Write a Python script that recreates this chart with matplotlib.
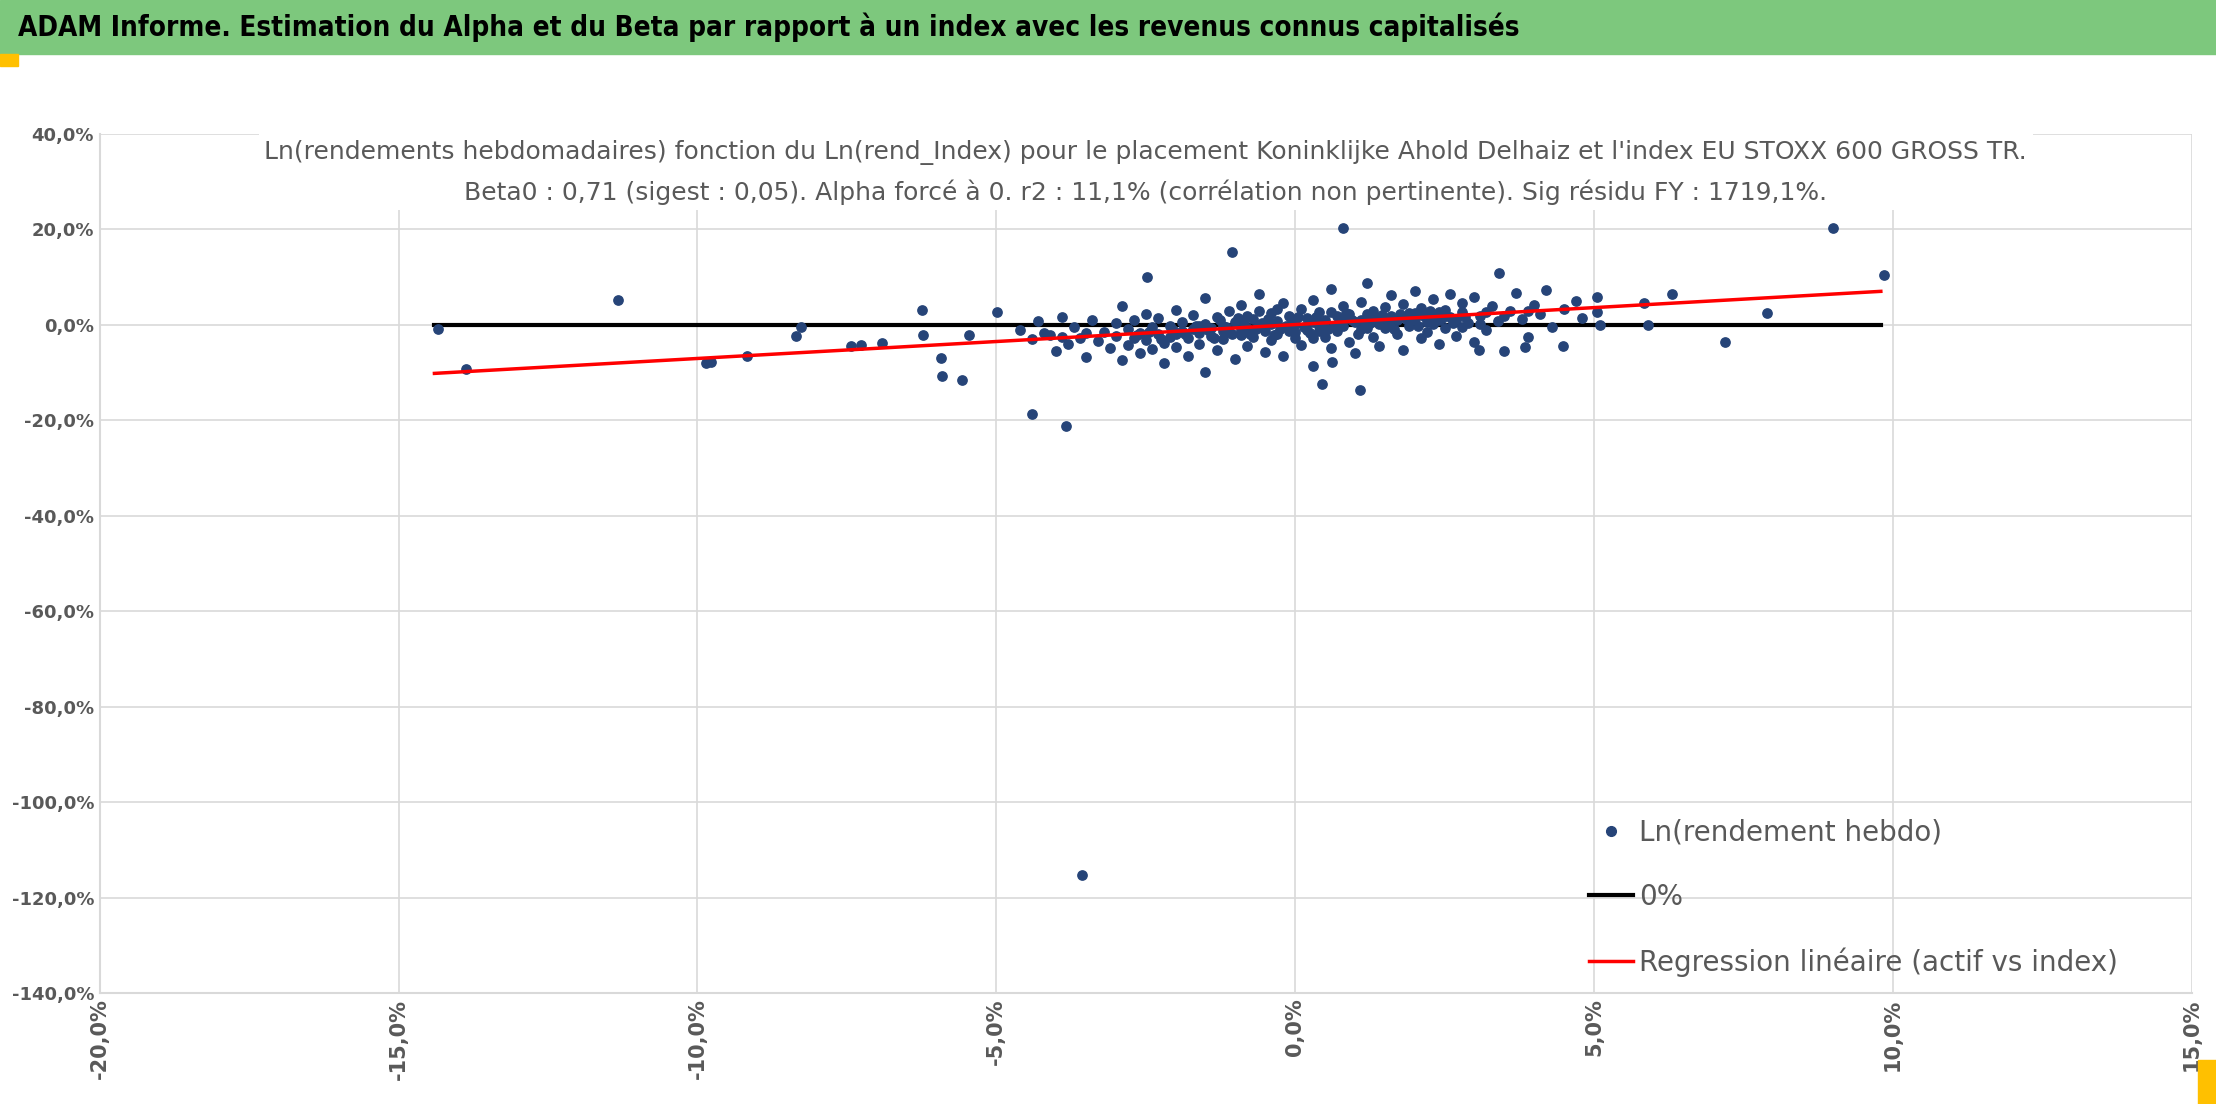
import matplotlib
matplotlib.use("Agg")
import matplotlib.pyplot as plt
from matplotlib.lines import Line2D
from matplotlib.patches import Rectangle
from matplotlib.ticker import FuncFormatter

plt.rcParams["font.family"] = ["Liberation Sans Narrow", "DejaVu Sans"]

# outliers (index %, asset %)
out_x = [-14.34, -13.87, -11.33, -9.85, -9.78, -9.17, -8.35, -8.27, -7.43, -7.26, -6.91, -6.25,
         -6.23, -5.92, -5.90, -5.57, -5.45, -4.98, -4.40, -3.83, -3.57, -1.06, 0.80, 0.35, 0.45,
         1.08, -2.47, 3.41, 9.0, 9.85, 7.9, 7.2, 5.9, 6.3, 5.83, 5.05, 5.05, 5.1, 4.49, 3.85,
         0.61, 3.08]
out_y = [-0.9, -9.3, 5.1, -8.1, -7.8, -6.6, -2.4, -0.6, -4.5, -4.2, -3.9, 3.0,
         -2.1, -6.9, -10.7, -11.6, -2.1, 2.7, -18.8, -21.2, -115.2, 15.2, 20.3, 30.5, -12.5,
         -13.7, 9.9, 10.7, 20.3, 10.4, 2.4, -3.6, 0.0, 6.3, 4.5, 5.7, 2.7, 0.0, -4.5, -4.8,
         -7.8, -5.4]

# dense cluster
clu = [(-4.6, -1.2), (-4.4, -3.0), (-4.3, 0.8), (-4.1, -2.2), (-4.0, -5.5), (-3.9, 1.5), (-3.8, -4.0),
       (-3.7, -0.5), (-3.6, -2.8), (-3.5, -6.8), (-3.4, 1.0), (-3.3, -3.5), (-3.2, -1.5), (-3.1, -5.0),
       (-3.0, 0.3), (-3.0, -2.4), (-2.9, -7.5), (-2.9, 3.8), (-2.8, -1.0), (-2.8, -4.2), (-2.7, -2.9),
       (-2.7, 0.9), (-2.6, -6.0), (-2.6, -1.8), (-2.5, 2.2), (-2.5, -3.3), (-2.4, -0.6), (-2.4, -5.2),
       (-2.3, -2.0), (-2.3, 1.4), (-2.2, -8.0), (-2.2, -3.8), (-2.1, -0.2), (-2.1, -2.6), (-2.0, 3.0),
       (-2.0, -4.6), (-1.9, -1.3), (-1.9, 0.6), (-1.8, -6.5), (-1.8, -2.9), (-1.7, -0.9), (-1.7, 2.1),
       (-1.6, -4.0), (-1.6, -1.8), (-1.5, 0.1), (-1.5, -10.0), (-1.5, 5.5), (-1.4, -2.4), (-1.4, -0.7),
       (-1.3, 1.6), (-1.3, -5.3), (-1.2, -3.1), (-1.2, -0.3), (-1.1, 2.8), (-1.1, -1.6), (-1.0, -7.2),
       (-1.0, 0.5), (-0.9, -2.2), (-0.9, 4.0), (-0.8, -0.8), (-0.8, -4.4), (-0.7, 1.2), (-0.7, -2.7),
       (-0.6, -0.1), (-0.6, 6.5), (-0.5, -5.8), (-0.5, -1.4), (-0.4, 2.4), (-0.4, -3.3), (-0.3, 0.7),
       (-0.3, -1.9), (-0.2, 4.6), (-0.2, -6.6), (-0.1, -0.6), (-0.1, 1.9), (0.0, -2.8), (0.0, 0.2),
       (0.1, 3.3), (0.1, -4.2), (0.2, -1.1), (0.2, 1.3), (0.3, -8.6), (0.3, 5.2), (0.4, -0.3), (0.4, 2.6),
       (0.5, -2.5), (0.5, 0.9), (0.6, -5.0), (0.6, 7.5), (0.7, 1.7), (0.7, -1.3), (0.8, 3.9), (0.8, -0.2),
       (0.9, -3.6), (0.9, 2.2), (1.0, 0.6), (1.0, -6.0), (1.1, 4.7), (1.1, -1.0), (1.2, 1.4), (1.2, 8.8),
       (1.3, -2.6), (1.3, 2.9), (1.4, 0.2), (1.4, -4.5), (1.5, 3.6), (1.5, -0.7), (1.6, 1.9), (1.6, 6.2),
       (1.7, -2.0), (1.7, 0.9), (1.8, 4.4), (1.8, -5.3), (1.9, 2.5), (1.9, -0.4), (2.0, 1.2), (2.0, 7.0),
       (2.1, -2.9), (2.1, 3.4), (2.2, 0.5), (2.2, -1.6), (2.3, 5.3), (2.3, 2.0), (2.4, -4.0), (2.4, 0.9),
       (2.5, 3.0), (2.5, -0.8), (2.6, 6.4), (2.6, 1.6), (2.7, -2.3), (2.8, 2.7), (2.8, 4.6), (2.9, 0.3),
       (3.0, -3.6), (3.0, 5.8), (3.1, 1.9), (3.2, -1.2), (3.3, 3.8), (3.4, 0.8), (3.5, -5.6), (3.6, 2.9),
       (3.7, 6.6), (3.8, 1.2), (3.9, -2.5), (4.0, 4.0), (4.1, 2.2), (4.2, 7.2), (4.3, -0.5), (4.5, 3.2),
       (4.7, 5.0), (4.8, 1.3),
       (-1.45, -1.1), (-1.25, 0.9), (-1.05, -2.0), (-0.85, 0.2), (-0.65, -1.0), (-0.45, 1.1), (-0.25, -0.9),
       (-0.05, 0.6), (0.15, -0.5), (0.35, 1.5), (0.55, -0.9), (0.75, 0.4), (0.95, 1.0), (1.15, -0.3),
       (1.35, 1.2), (1.55, 0.1), (1.75, 2.2), (1.95, 0.8), (2.15, 1.8), (-1.35, -2.8), (-1.15, -0.6),
       (-0.95, 1.3), (-0.75, -1.9), (-0.55, 0.4), (-0.35, -2.2), (-0.15, -0.2), (0.05, 1.6), (0.25, -1.8),
       (0.45, 0.1), (0.65, -0.3), (0.85, 2.5), (1.05, -1.9), (1.25, 0.3), (1.45, 2.0), (1.65, -1.0),
       (1.85, 1.1), (2.05, -0.2), (2.25, 2.9), (2.45, 1.4), (2.65, 0.3), (2.85, 1.5), (-1.65, -0.4),
       (-1.85, -2.0), (-2.05, -1.2), (-2.25, -3.0), (-2.45, -1.6), (-2.65, -2.2), (-0.6, 2.9), (0.0, -1.6),
       (0.6, 2.7), (1.2, -0.8), (-0.3, 3.3), (0.3, -2.9),
       (-0.9, -1.2), (-0.5, -0.4), (-0.1, -1.3), (0.3, 0.6), (0.7, -0.7), (1.1, 0.9), (1.5, 1.3),
       (1.9, 1.7), (2.3, 0.2), (2.7, 1.0), (3.1, 0.2), (3.5, 1.8), (3.9, 2.9), (-3.5, -1.8), (-3.9, -2.6),
       (-4.2, -1.7), (-2.0, -1.9), (-1.6, -0.2), (-1.2, -1.4), (-0.8, 1.9), (-0.4, 0.1), (0.0, 1.0),
       (0.4, -1.4), (0.8, 1.2), (1.2, 2.3), (1.6, -0.3), (2.0, 2.4), (2.4, 2.6), (2.8, -0.5), (3.2, 2.7)]
clu_x = [p[0] for p in clu]
clu_y = [p[1] for p in clu]

beta = 0.71
x_min, x_max = -14.4, 9.8

title = "ADAM Informe. Estimation du Alpha et du Beta par rapport à un index avec les revenus connus capitalisés"
subtitle = ("Ln(rendements hebdomadaires) fonction du Ln(rend_Index) pour le placement Koninklijke Ahold Delhaiz et l'index EU STOXX 600 GROSS TR.\n"
            "Beta0 : 0,71 (sigest : 0,05). Alpha forcé à 0. r2 : 11,1% (corrélation non pertinente). Sig résidu FY : 1719,1%.")

grey = "#595959"
fig = plt.figure(figsize=(22.16, 11.04), dpi=100)

# green banner
fig.patches.append(Rectangle((0, 0.951), 1, 0.049, transform=fig.transFigure, color="#7dc87d", zorder=0))
fig.patches.append(Rectangle((0, 0.94), 0.008, 0.011, transform=fig.transFigure, color="#ffc000"))
fig.patches.append(Rectangle((0.992, 0.0), 0.008, 0.04, transform=fig.transFigure, color="#ffc000"))
fig.text(0.008, 0.975, title, fontsize=20, fontweight="bold", va="center", ha="left", color="black",
         stretch="condensed")

ax = fig.add_axes([0.045, 0.1005, 0.944, 0.7785])
ax.scatter(out_x + clu_x, out_y + clu_y, s=45, color="#264478", zorder=3)
ax.plot([x_min, x_max], [0, 0], color="black", lw=3, zorder=2)
ax.plot([x_min, x_max], [beta * x_min, beta * x_max], color="#ff0000", lw=2.5, zorder=4)

ax.set_xlim(-20, 15)
ax.set_ylim(-140, 40)
ax.set_xticks(range(-20, 16, 5))
ax.set_yticks(range(-140, 41, 20))
fmt = FuncFormatter(lambda v, p: f"{v:.1f}%".replace(".", ","))
ax.xaxis.set_major_formatter(fmt)
ax.yaxis.set_major_formatter(fmt)
ax.grid(True, color="#d9d9d9", lw=1.2)
ax.set_axisbelow(True)
for s in ["top", "right"]:
    ax.spines[s].set_visible(False)
for s in ["left", "bottom"]:
    ax.spines[s].set_color("#d9d9d9")
    ax.spines[s].set_linewidth(1.5)
ax.tick_params(length=0, colors=grey, labelsize=13, pad=4)
for lab in ax.get_xticklabels():
    lab.set_rotation(90)
    lab.set_fontweight("bold")
    lab.set_fontsize(15)
for lab in ax.get_yticklabels():
    lab.set_fontweight("bold")

ax.text(0.5, 0.955, subtitle, transform=ax.transAxes, ha="center", va="center", fontsize=18,
        color=grey, linespacing=1.7, zorder=6,
        bbox=dict(facecolor="white", edgecolor="none", pad=4))

handles = [Line2D([], [], marker="o", ls="none", color="#264478", markersize=7),
           Line2D([], [], color="black", lw=3),
           Line2D([], [], color="#ff0000", lw=2.5)]
ax.legend(handles, ["Ln(rendement hebdo)", "0%", "Regression linéaire (actif vs index)"],
          loc="lower left", bbox_to_anchor=(0.7, -0.01), frameon=False, fontsize=20,
          labelcolor=grey, handlelength=1.6, handletextpad=0.2, labelspacing=1.3)

fig.savefig("out.png", dpi=100)
